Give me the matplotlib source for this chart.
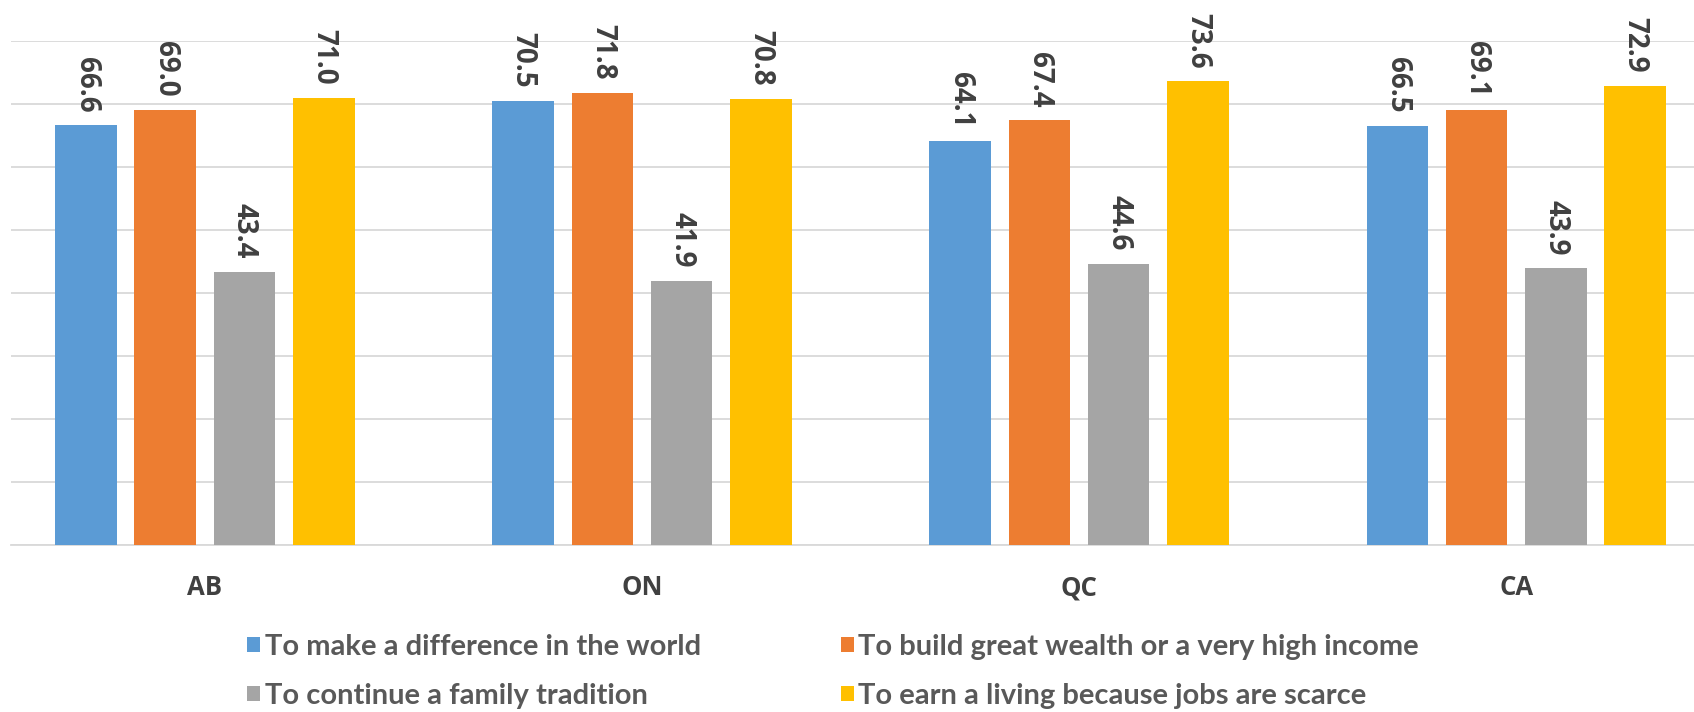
import numpy as np
import matplotlib.pyplot as plt
from matplotlib.patches import Patch

# provinces and survey shares (%)
regions = ["AB", "ON", "QC", "CA"]
series_names = [
    "To make a difference in the world",
    "To build great wealth or a very high income",
    "To continue a family tradition",
    "To earn a living because jobs are scarce",
]
difference = [66.6, 70.5, 64.1, 66.5]
wealth = [69.0, 71.8, 67.4, 69.1]
tradition = [43.4, 41.9, 44.6, 43.9]
living = [71.0, 70.8, 73.6, 72.9]

colors = ["#5B9BD5", "#ED7D31", "#A5A5A5", "#FFC000"]

fig = plt.figure(figsize=(16.94, 7.12), dpi=100)
ax = fig.add_axes([0.0064, 0.2346, 0.9936, 0.7078])

x = np.arange(len(regions))
width = 0.141
step = 0.1812
all_series = [difference, wealth, tradition, living]
for i, vals in enumerate(all_series):
    pos = x + (i - 1.5) * step
    bars = ax.bar(pos, vals, width, color=colors[i], zorder=3)
    for b, v in zip(bars, vals):
        ax.annotate(f"{v:.1f}", (b.get_x() + b.get_width() / 2, v),
                    xytext=(0, 9.5), textcoords="offset points",
                    rotation=-90, ha="center", va="bottom",
                    family="Open Sans", fontsize=20, fontweight="bold",
                    color="#404040", annotation_clip=False)

ax.set_xlim(-0.444, 3.407)
ax.set_ylim(0, 80)
ax.set_yticks(np.arange(0, 81, 10))
ax.set_yticklabels([])
ax.yaxis.grid(True, color="#D9D9D9", linewidth=1.3, zorder=0)
ax.tick_params(axis="y", length=0)
ax.set_xticks(x)
ax.set_xticklabels(regions, family="Open Sans", fontsize=18.5,
                   fontweight="bold", color="#404040")
ax.tick_params(axis="x", length=0, pad=21)
for s in ["top", "left", "right"]:
    ax.spines[s].set_visible(False)
ax.spines["bottom"].set_color("#D9D9D9")
ax.spines["bottom"].set_linewidth(1.3)

# legend order: column 1 = blue, gray; column 2 = orange, yellow
order = [0, 2, 1, 3]
handles = [Patch(facecolor=colors[k], label=series_names[k]) for k in order]
fig.legend(handles=handles, ncol=2, loc="center left",
           bbox_to_anchor=(0.146, 0.057), frameon=False,
           prop={"family": "Lato", "weight": "bold", "size": 21},
           labelcolor="#595959", handlelength=0.45, handleheight=0.45,
           handletextpad=0.15, columnspacing=4.8, labelspacing=0.78,
           borderpad=0, borderaxespad=0)

fig.savefig("out.png", dpi=100)
